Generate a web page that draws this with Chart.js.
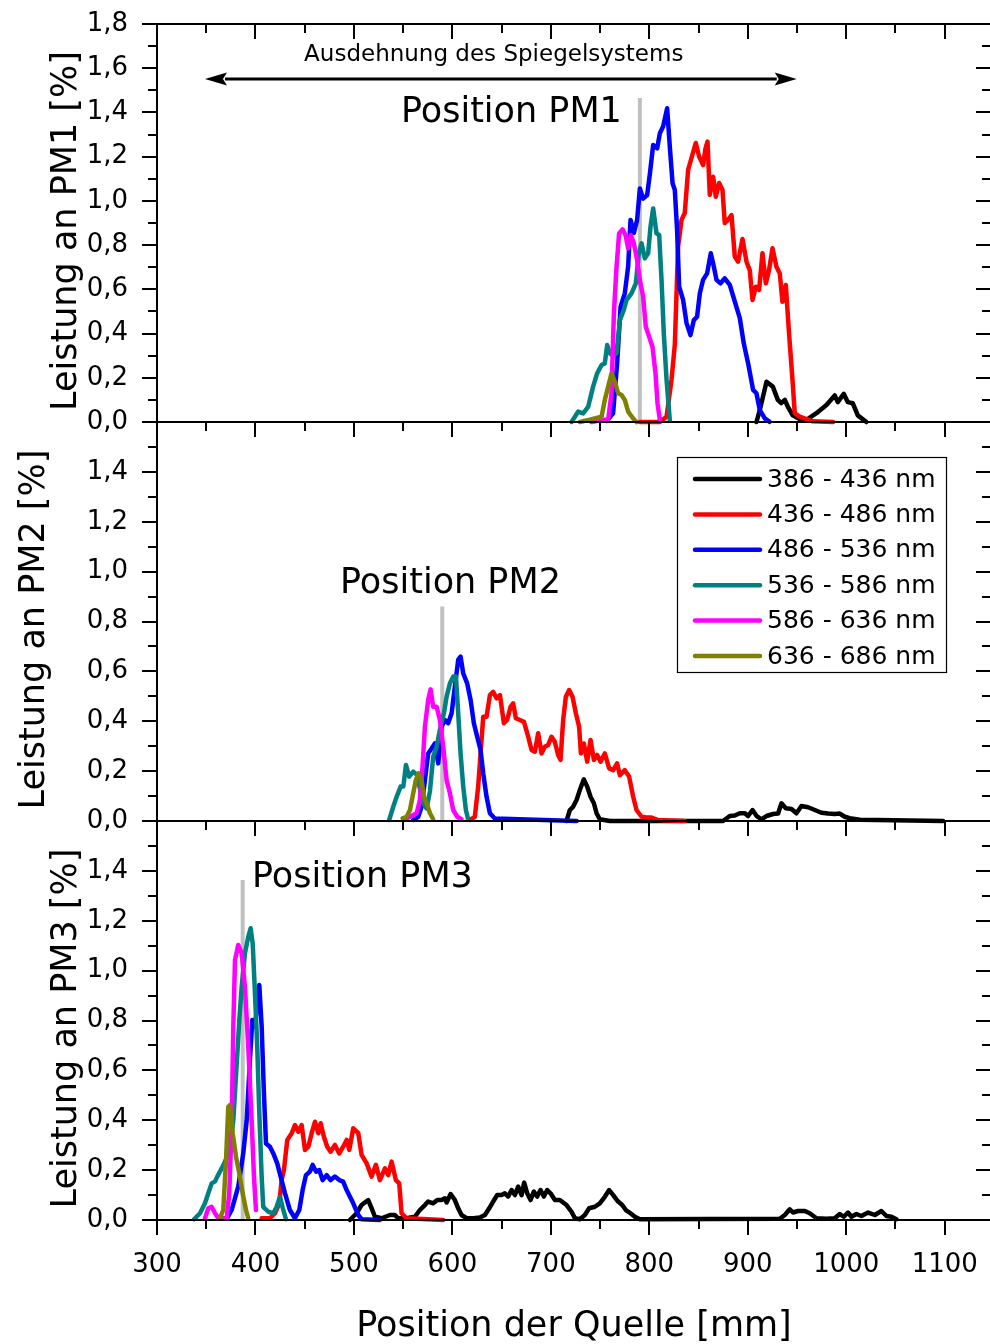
<!DOCTYPE html>
<html><head><meta charset="utf-8">
<script src="https://cdn.jsdelivr.net/npm/chart.js@4.4.1/dist/chart.umd.min.js"></script>
<style>
html,body{margin:0;padding:0;background:#fff;overflow:hidden;width:990px;height:1344px;}
canvas{position:absolute;left:0;top:0;}
</style></head><body>
<canvas id="c1" width="1000" height="1344"></canvas>
<canvas id="c2" width="1000" height="1344"></canvas>
<canvas id="c3" width="1000" height="1344"></canvas>
<script>
// ---------- data ----------
const bands = ['386 - 436 nm','436 - 486 nm','486 - 536 nm','536 - 586 nm','586 - 636 nm','636 - 686 nm'];
const xTickValues = [300,400,500,600,700,800,900,1000,1100];
const yTicksPM1 = [0,0.2,0.4,0.6,0.8,1.0,1.2,1.4,1.6,1.8];
const yTicksPM23 = [0,0.2,0.4,0.6,0.8,1.0,1.2,1.4];
const panelTitles = ['Leistung an PM1 [%]','Leistung an PM2 [%]','Leistung an PM3 [%]'];
const positionLabels = ['Position PM1','Position PM2','Position PM3'];
const xTitle = 'Position der Quelle [mm]';
const spanLabel = 'Ausdehnung des Spiegelsystems';
const spanRange = [348.7, 949.7];

// Panel 1 (PM1)
const p1Black = [[908.8,0],[912,0.05],[919.0,0.182],[925.4,0.16],[930.5,0.10],[934,0.085],[937.6,0.10],[940.6,0.07],[945.7,0.03],[952,0.015],[959.6,0.01],[969.7,0.04],[979.9,0.077],[988.3,0.12],[991.4,0.09],[997.5,0.127],[1001.5,0.09],[1006.6,0.085],[1011.7,0.03],[1020.5,0]];
const p1Red = [[790.4,0],[810.7,0],[817.5,0.024],[822.5,0.19],[825.9,0.35],[829.2,0.793],[832.7,0.914],[836.0,0.945],[839.4,1.14],[842.8,1.194],[847.2,1.262],[850.6,1.20],[854.6,1.162],[857.1,1.239],[859.1,1.268],[861.4,1.027],[864.8,1.109],[867.5,1.019],[870.9,1.081],[874.3,1.049],[876.6,0.90],[880.0,0.914],[883.5,0.936],[886.8,0.748],[890.2,0.725],[894.6,0.828],[898.7,0.725],[902.0,0.687],[904.8,0.552],[908.1,0.612],[911.5,0.597],[914.9,0.763],[918.3,0.627],[921.6,0.687],[925.1,0.786],[929.1,0.702],[932.5,0.672],[935.2,0.544],[938.6,0.62],[941.9,0.401],[945.4,0.19],[947.7,0.039],[952.8,0.024],[966.0,0.003],[986.6,0]];
const p1Blue = [[757,0.005],[763.2,0.039],[767.3,0.265],[770.8,0.522],[775.1,0.582],[778.5,0.703],[780.9,0.914],[784.3,0.855],[787.6,0.914],[790.4,1.056],[793.7,1.01],[797.8,1.026],[800.6,1.124],[803.9,1.253],[808.0,1.238],[810.7,1.306],[814.0,1.336],[818.1,1.419],[820.8,1.245],[823.6,1.08],[825.9,1.049],[828.2,0.868],[830.3,0.612],[834.3,0.552],[837.8,0.447],[841.8,0.393],[845.2,0.461],[848.5,0.476],[851.3,0.582],[854.6,0.643],[858.7,0.672],[862.4,0.763],[865.5,0.703],[868.2,0.643],[872.3,0.627],[876.6,0.65],[881.7,0.62],[886.8,0.545],[891.9,0.47],[895.9,0.356],[900.3,0.266],[905.4,0.145],[908.8,0.13],[912.2,0.054],[917.3,0.016],[922.3,0.001]];
const p1Teal = [[721.0,0],[727.7,0.047],[732.8,0.039],[737.9,0.069],[742.9,0.16],[747.0,0.22],[751.5,0.258],[754.8,0.265],[757.2,0.348],[759.9,0.311],[763,0.30],[766.7,0.311],[770.1,0.461],[774.1,0.507],[776.9,0.552],[781.9,0.582],[786.3,0.627],[789.3,0.763],[792.1,0.808],[795.4,0.74],[798.8,0.763],[801.2,0.883],[803.9,0.966],[807.3,0.853],[810.0,0.846],[812.4,0.642],[814.7,0.401],[817.5,0.19],[820.8,0.009]];
const p1Magenta = [[741.3,0],[753.1,0.01],[758.2,0.01],[761.6,0.13],[764.0,0.49],[766.7,0.70],[769.3,0.853],[772.8,0.871],[775.8,0.846],[778.5,0.786],[781.2,0.846],[784.3,0.808],[787.6,0.733],[790.4,0.642],[793.7,0.567],[796.4,0.431],[799.8,0.386],[803.2,0.34],[806.3,0.22],[808.3,0.085],[810.7,0.009]];
const p1Olive = [[729.4,0],[739.6,0.01],[751.5,0.024],[754.8,0.10],[758.2,0.16],[761.6,0.22],[765.0,0.182],[768.3,0.13],[771.8,0.122],[775.1,0.10],[778.5,0.047],[783.6,0.016],[787.0,0]];
const p1Gray = [[790.4,0],[790.4,1.465]];

// Panel 2 (PM2)
const p2Black = [[715.9,0],[719.3,0.044],[722.6,0.057],[726.1,0.084],[729.4,0.124],[733.5,0.167],[736.9,0.138],[740.3,0.097],[743.7,0.071],[746.4,0.031],[749.7,0.007],[760,0],[874.9,0],[881.7,0.02],[886.8,0.022],[891.9,0.031],[897.0,0.031],[900.3,0.02],[904.8,0.044],[909.0,0.02],[913.9,0.007],[918.9,0.02],[925.7,0.028],[930.8,0.03],[934.2,0.071],[938.6,0.051],[944.4,0.048],[949.4,0.031],[954.5,0.06],[961.2,0.055],[968.0,0.044],[974.8,0.033],[981.6,0.03],[988.3,0.028],[993.4,0.03],[998.5,0.017],[1003.6,0.011],[1013.8,0.005],[1098.3,0]];
const p2Red = [[617.8,0.004],[622.8,0.017],[626.2,0.138],[629.6,0.325],[631.3,0.418],[634.7,0.418],[638.1,0.505],[641.4,0.518],[644.9,0.492],[648.3,0.505],[652.3,0.392],[655.6,0.405],[659.1,0.458],[661.7,0.472],[664.5,0.412],[668.5,0.405],[672.6,0.398],[677.0,0.338],[680.4,0.285],[683.8,0.278],[687.1,0.352],[690.5,0.271],[693.9,0.298],[697.3,0.305],[700.7,0.338],[704.0,0.318],[707.4,0.265],[709.8,0.245],[712.5,0.405],[715.2,0.498],[718.6,0.525],[722.0,0.498],[725.4,0.432],[728.7,0.378],[730.5,0.271],[733.5,0.311],[736.9,0.238],[740.3,0.325],[743.7,0.245],[747.0,0.265],[750.5,0.238],[754.8,0.271],[759.2,0.211],[763.3,0.204],[767.3,0.231],[770.1,0.184],[775.1,0.204],[779.5,0.178],[783.6,0.097],[787.0,0.044],[792.1,0.017],[797.2,0.014],[802.2,0.014],[809.0,0.004],[836.0,0]];
const p2Blue = [[560.2,0.004],[565.3,0.017],[568.7,0.057],[572.1,0.164],[575.4,0.271],[578.9,0.291],[582.2,0.311],[585.6,0.231],[589.0,0.378],[592.4,0.405],[595.7,0.392],[599.2,0.432],[602.5,0.538],[605.9,0.646],[608.3,0.659],[611.0,0.592],[615.0,0.552],[618.5,0.485],[621.8,0.392],[625.2,0.338],[628.6,0.285],[631.3,0.191],[634.7,0.097],[638.1,0.031],[643.1,0.01],[726.1,0]];
const p2Teal = [[535.8,0.004],[539.9,0.057],[543.4,0.097],[547.4,0.138],[550.2,0.138],[552.8,0.225],[556.1,0.178],[560.2,0.198],[564.3,0.184],[567.0,0.13],[570.5,0.07],[573.8,0.05],[577.2,0.12],[580.5,0.258],[584.0,0.298],[587.3,0.365],[591.4,0.432],[594.1,0.498],[597.5,0.552],[600.8,0.579],[603.6,0.579],[605.9,0.432],[608.3,0.271],[611.0,0.138],[613.7,0.044],[616.0,0.007]];
const p2Magenta = [[550.1,0.004],[556.9,0.017],[563.7,0.031],[567.0,0.084],[569.7,0.218],[572.1,0.378],[575.4,0.485],[577.9,0.528],[580.5,0.458],[584.0,0.458],[587.3,0.405],[590.7,0.298],[594.1,0.164],[597.5,0.111],[600.8,0.044],[604.9,0.017],[609.3,0.007]];
const p2Olive = [[549.4,0.011],[553.5,0.017],[556.9,0.044],[560.2,0.111],[562.9,0.164],[565.7,0.191],[568.7,0.164],[571.1,0.097],[573.8,0.071],[577.2,0.031],[580.5,0.007]];
const p2Gray = [[589.7,0],[589.7,0.86]];

// Panel 3 (PM3)
const p3Black = [[495.9,0],[502.7,0.027],[507.8,0.06],[514.5,0.08],[518.0,0.047],[521.3,0.013],[528.1,0.007],[536.5,0.02],[541.6,0.02],[545.0,0.007],[553.5,0.007],[561.9,0.013],[567.0,0.04],[572.1,0.06],[575.4,0.074],[580.5,0.067],[584.6,0.08],[589.0,0.08],[592.4,0.087],[594.1,0.07],[598.2,0.104],[602.5,0.08],[605.9,0.047],[609.3,0.02],[614.4,0.007],[621.2,0.007],[627.9,0.01],[633.0,0.02],[637.4,0.047],[641.4,0.074],[645.5,0.10],[649.9,0.10],[653.3,0.107],[656.7,0.094],[660.1,0.12],[663.5,0.10],[666.8,0.134],[670.3,0.10],[672.9,0.15],[676.0,0.107],[679.4,0.08],[682.7,0.114],[686.1,0.094],[689.5,0.12],[692.9,0.094],[696.3,0.12],[699.7,0.107],[704.1,0.08],[709.1,0.08],[715.9,0.06],[721.0,0.033],[724.4,0.007],[729.4,0.003],[734.5,0.02],[738.9,0.047],[744.7,0.053],[749.7,0.067],[754.8,0.093],[759.2,0.12],[763.3,0.10],[768.3,0.074],[772.5,0.06],[776.1,0.04],[780.9,0.027],[785.3,0.013],[790.4,0.003],[932.5,0.005],[937.6,0.02],[942.6,0.043],[945.9,0.03],[951.1,0.036],[957.9,0.036],[962.9,0.027],[969.7,0.007],[979.9,0.005],[988.3,0.007],[993.4,0.024],[997.5,0.013],[1001.8,0.03],[1005.2,0.013],[1010.3,0.024],[1015.4,0.016],[1022.2,0.03],[1029.0,0.02],[1035.7,0.036],[1040.8,0.016],[1045.9,0.013],[1051.0,0.003]];
const p3Red = [[406.3,0.007],[414.7,0.007],[419.8,0.027],[424.2,0.067],[426.6,0.16],[428.9,0.20],[432.3,0.321],[436.8,0.348],[440.1,0.381],[443.5,0.354],[446.9,0.381],[450.3,0.281],[453.7,0.294],[457.1,0.348],[460.4,0.394],[463.8,0.348],[466.2,0.388],[469.5,0.334],[472.9,0.294],[476.3,0.274],[480.7,0.301],[485.1,0.267],[489.1,0.294],[492.6,0.321],[495.3,0.281],[499.3,0.368],[504.4,0.348],[507.8,0.261],[512.9,0.227],[518.0,0.174],[522.3,0.221],[526.4,0.16],[531.5,0.207],[534.8,0.18],[538.3,0.234],[542.6,0.16],[546.0,0.147],[548.4,0.027],[553.5,0.007],[590.7,0]];
const p3Blue = [[371,0.005],[375.8,0.04],[382.5,0.134],[387.6,0.267],[391.1,0.40],[394.4,0.642],[396.8,0.802],[399.5,0.775],[403.9,0.942],[406.3,0.775],[408.6,0.508],[410.7,0.307],[414.7,0.294],[418.1,0.267],[422.1,0.227],[425.6,0.174],[430.0,0.107],[435.0,0.04],[440.1,0.007],[444.5,0.04],[447.9,0.12],[451.3,0.18],[455.3,0.194],[458.1,0.221],[461.5,0.194],[464.8,0.20],[468.2,0.16],[472.3,0.18],[476.3,0.16],[480.7,0.174],[485.1,0.16],[489.1,0.154],[492.6,0.12],[494.2,0.107],[499.3,0.067],[504.4,0.02],[507.8,0.003],[526.4,0]];
const p3Teal = [[337.6,0.003],[343.7,0.027],[348.7,0.067],[352.1,0.107],[355.5,0.147],[359.0,0.155],[361.2,0.174],[365.7,0.207],[369.0,0.234],[373.4,0.267],[377.5,0.40],[380.8,0.615],[383.6,0.802],[386.0,0.935],[389.3,1.069],[392.7,1.136],[395.1,1.17],[397.2,1.109],[399.5,0.909],[401.8,0.695],[403.9,0.428],[406.3,0.174],[407.9,0.053],[413.0,0.033],[418.1,0.027],[421.5,0.053],[424.9,0.093],[427.6,0.05],[431.0,0.003]];
const p3Magenta = [[348.7,0.007],[352.1,0.047],[355.5,0.053],[358.9,0.027],[362.3,0.007],[370.8,0.007],[373.4,0.107],[375.8,0.374],[377.5,0.775],[379.2,1.042],[382.5,1.103],[386.0,1.069],[389.3,0.935],[392.7,0.695],[396.1,0.401],[398.5,0.174],[400.5,0.04]];
const p3Olive = [[364.0,0.007],[367.3,0.04],[370.1,0.24],[372.4,0.454],[374.1,0.461],[376.9,0.348],[380.2,0.254],[383.6,0.187],[387.0,0.107],[390.4,0.04],[392.7,0.007]];
const p3Gray = [[387.0,0],[387.0,1.363]];

// ---------- styles ----------
const colors = ['#000000','#ff0000','#0000ff','#008080','#ff00ff','#808000'];
const FONT = '"DejaVu Sans", sans-serif';
Chart.defaults.font.family = FONT;
Chart.defaults.color = '#000';

const fmt = v => Number(v).toFixed(1).replace('.', ',');

const framePlugin = {
  id: 'frame',
  afterDatasetsDraw(chart, args, o) {
    const {ctx, chartArea: a, scales: {x, y}} = chart;
    ctx.save();
    ctx.strokeStyle = '#000';
    ctx.fillStyle = '#000';
    ctx.lineWidth = 2;
    ctx.lineCap = 'butt';
    const seg = (x1, y1, x2, y2) => { ctx.beginPath(); ctx.moveTo(x1, y1); ctx.lineTo(x2, y2); ctx.stroke(); };
    ctx.strokeRect(a.left, a.top, a.right - a.left, a.bottom - a.top);
    // x ticks
    for (let v = 300; v <= x.max; v += 50) {
      const px = Math.round(x.getPixelForValue(v));
      const L = (v % 100 === 0) ? 15 : 9;
      seg(px, a.top, px, a.top + L);
      if (o.bottomTicks) seg(px, a.bottom, px, a.bottom + L);
    }
    // y ticks
    for (let i = 0; i <= Math.round(y.max * 10); i++) {
      const py = Math.round(y.getPixelForValue(i / 10));
      const L = (i % 2 === 0) ? 15 : 9;
      seg(a.left - L, py, a.left, py);
      seg(a.right - L, py, a.right, py);
    }
    // y title
    ctx.save();
    ctx.translate(o.titleBaseX, (a.top + a.bottom) / 2 + 8);
    ctx.rotate(-Math.PI / 2);
    ctx.font = '35px ' + FONT;
    ctx.textAlign = 'center';
    ctx.textBaseline = 'alphabetic';
    ctx.fillText(o.title, 0, 0);
    ctx.restore();
    // position label
    ctx.font = '35px ' + FONT;
    ctx.textAlign = 'left';
    ctx.textBaseline = 'middle';
    ctx.fillText(o.posLabel, x.getPixelForValue(o.posAt[0]), y.getPixelForValue(o.posAt[1]));
    // span arrow
    if (o.span) {
      const ay = y.getPixelForValue(1.551);
      const x1 = x.getPixelForValue(spanRange[0]);
      const x2 = x.getPixelForValue(spanRange[1]);
      const hl = 22, hw = 6.5;
      ctx.lineWidth = 3;
      seg(x1 + hl - 2, ay, x2 - hl + 2, ay);
      ctx.beginPath(); ctx.moveTo(x1, ay); ctx.lineTo(x1 + hl, ay - hw); ctx.lineTo(x1 + hl - 4, ay); ctx.lineTo(x1 + hl, ay + hw); ctx.closePath(); ctx.fill();
      ctx.beginPath(); ctx.moveTo(x2, ay); ctx.lineTo(x2 - hl, ay - hw); ctx.lineTo(x2 - hl + 4, ay); ctx.lineTo(x2 - hl, ay + hw); ctx.closePath(); ctx.fill();
      ctx.font = '23px ' + FONT;
      ctx.textAlign = 'center';
      ctx.textBaseline = 'alphabetic';
      ctx.fillText(spanLabel, x.getPixelForValue(642), y.getPixelForValue(1.669) + 8);
    }
    // legend
    if (o.legend) {
      const bx = 677, by = 457, bw = 269, bh = 215;
      ctx.lineWidth = 1.2;
      ctx.strokeRect(bx + 0.5, by + 0.5, bw, bh);
      ctx.font = '25px ' + FONT;
      ctx.textAlign = 'left';
      ctx.textBaseline = 'middle';
      ctx.lineCap = 'round';
      bands.forEach((b, i) => {
        const cy = by + 22 + i * 35.4;
        ctx.strokeStyle = colors[i];
        ctx.lineWidth = 4.5;
        seg(695, cy, 760, cy);
        ctx.fillStyle = '#000';
        ctx.fillText(b, 767, cy + 1);
      });
    }
    ctx.restore();
  }
};

function makePanel(id, series, gray, cfg) {
  const sets = series.map((s, i) => ({
    label: bands[i],
    data: s.map(p => ({x: p[0], y: p[1]})),
    borderColor: colors[i], backgroundColor: colors[i],
    borderWidth: 4.5, pointRadius: 0, tension: 0, fill: false, clip: false,
    borderJoinStyle: 'round', borderCapStyle: 'round', order: 6 - i
  }));
  sets.push({
    label: 'Position', data: gray.map(p => ({x: p[0], y: p[1]})),
    borderColor: '#c0c0c0', borderWidth: 4, pointRadius: 0, fill: false, clip: false, order: 20
  });
  return new Chart(document.getElementById(id), {
    type: 'line',
    data: {datasets: sets},
    options: {
      responsive: false, animation: false, devicePixelRatio: 1, events: [],
      layout: {padding: {left: 0, right: 9, top: cfg.top, bottom: cfg.padBottom}},
      plugins: {legend: {display: false}, tooltip: {enabled: false}, frame: cfg},
      scales: {
        x: {
          type: 'linear', min: 300, max: 1147, display: cfg.showX,
          afterFit: s => { if (cfg.showX) s.height = 124; s.paddingLeft = 0; s.paddingRight = 0; },
          afterBuildTicks: s => { s.ticks = xTickValues.map(v => ({value: v})); },
          ticks: {font: {size: 26}, padding: 30, autoSkip: false, maxRotation: 0, callback: v => String(v)},
          grid: {display: false, drawTicks: false}, border: {display: false},
          title: {display: cfg.showX, text: xTitle, font: {size: 35, lineHeight: 1.0}, padding: {top: 0, bottom: 0}}
        },
        y: {
          type: 'linear', min: 0, max: cfg.yMax,
          afterFit: s => { s.width = 157; s.paddingTop = 0; s.paddingBottom = 0; },
          afterBuildTicks: s => { s.ticks = cfg.yTicks.map(v => ({value: v})); },
          ticks: {font: {size: 26}, padding: 29, autoSkip: false, callback: v => fmt(v)},
          grid: {display: false, drawTicks: false}, border: {display: false}
        }
      }
    },
    plugins: [framePlugin]
  });
}

makePanel('c1', [p1Black, p1Red, p1Blue, p1Teal, p1Magenta, p1Olive], p1Gray, {
  top: 24, padBottom: 1344 - 422, showX: false, yMax: 1.8, yTicks: yTicksPM1,
  title: panelTitles[0], titleBaseX: 76, posLabel: positionLabels[0], posAt: [547.7, 1.40],
  span: true, legend: false, bottomTicks: false
});
makePanel('c2', [p2Black, p2Red, p2Blue, p2Teal, p2Magenta, p2Olive], p2Gray, {
  top: 422, padBottom: 1344 - 821, showX: false, yMax: 1.6, yTicks: yTicksPM23,
  title: panelTitles[1], titleBaseX: 44, posLabel: positionLabels[1], posAt: [485.8, 0.95],
  span: false, legend: true, bottomTicks: false
});
makePanel('c3', [p3Black, p3Red, p3Blue, p3Teal, p3Magenta, p3Olive], p3Gray, {
  top: 821, padBottom: 0, showX: true, yMax: 1.6, yTicks: yTicksPM23,
  title: panelTitles[2], titleBaseX: 76, posLabel: positionLabels[2], posAt: [396.4, 1.371],
  span: false, legend: false, bottomTicks: true
});
</script>
</body></html>
